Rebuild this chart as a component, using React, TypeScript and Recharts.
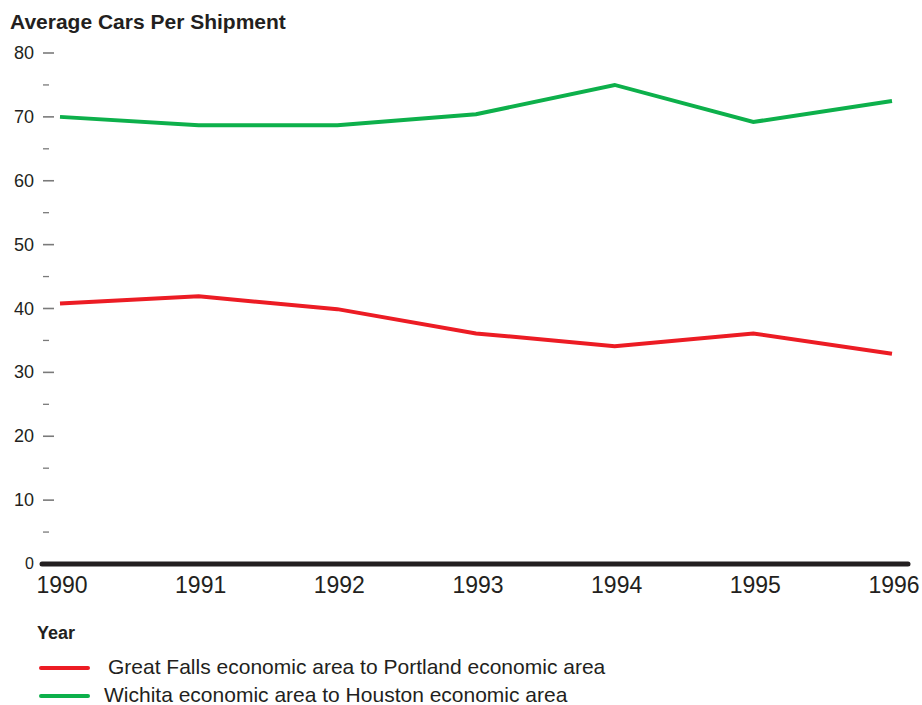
import React from "react";
import { LineChart, Line, XAxis, YAxis, ReferenceLine } from "recharts";

const years = [1990, 1991, 1992, 1993, 1994, 1995, 1996];
const greatFalls = [40.8, 41.9, 39.9, 36.1, 34.1, 36.1, 32.9];
const wichita = [70.0, 68.7, 68.7, 70.4, 75.0, 69.2, 72.5];
const yTicks = [0, 5, 10, 15, 20, 25, 30, 35, 40, 45, 50, 55, 60, 65, 70, 75, 80];
const seriesNames = [
  "Great Falls economic area to Portland economic area",
  "Wichita economic area to Houston economic area",
];
const colors = ["#ec1c24", "#0db04b"];

const data = years.map((y, i) => ({ year: y, gf: greatFalls[i], wi: wichita[i] }));

const FONT = "'Liberation Sans', Arial, Helvetica, sans-serif";
const TEXT = "#231f20";

const YTick = (props: any) => {
  const { x, y, payload } = props;
  const v = payload.value;
  const major = v % 10 === 0;
  return (
    <g>
      {v !== 0 && (
        <line x1={x + 1} x2={major ? x + 12 : x + 7} y1={y} y2={y} stroke="#7a7a7a" strokeWidth={major ? 1.6 : 1.3} />
      )}
      {major && (
        <text x={x - 8} y={y} dy={v === 0 ? 5 : 6} textAnchor="end" fontSize={v === 0 ? 16 : 18} fill={TEXT} fontFamily={FONT}>
          {v}
        </text>
      )}
    </g>
  );
};

const XTick = (props: any) => {
  const { x, y, payload } = props;
  return (
    <text x={x + 2} y={y + 29} textAnchor="middle" fontSize={23} fill={TEXT} fontFamily={FONT}>
      {payload.value}
    </text>
  );
};

const LegendBlock = () => (
  <div style={{ position: "absolute", left: 0, top: 655, width: 922, height: 48, fontFamily: FONT, color: TEXT }}>
    {seriesNames.map((n, i) => (
      <div key={n} style={{ position: "absolute", left: 0, top: i * 28, height: 21, width: 922 }}>
        <div style={{ position: "absolute", left: 39, top: 11, width: 51, height: 4, borderRadius: 2, background: colors[i] }} />
        <div style={{ position: "absolute", left: i === 0 ? 108 : 104, top: 3, fontSize: 21, lineHeight: "17px", whiteSpace: "nowrap" }}>{n}</div>
      </div>
    ))}
  </div>
);

export default function App() {
  return (
    <div style={{ position: "absolute", left: 0, top: 0, width: 922, height: 705, background: "#fff", fontFamily: FONT, overflow: "hidden" }}>
      <div style={{ position: "absolute", left: 10, top: 10, fontSize: 21, fontWeight: "bold", color: TEXT, whiteSpace: "nowrap", lineHeight: "normal" }}>
        Average Cars Per Shipment
      </div>
      <div style={{ position: "absolute", left: 37, top: 623, fontSize: 18, fontWeight: "bold", color: TEXT }}>Year</div>
      <LineChart width={922} height={705} data={data} margin={{ top: 53, right: 14, bottom: 111, left: 0 }}>
        <XAxis
          dataKey="year"
          type="number"
          domain={[1990, 1996]}
          ticks={years}
          padding={{ left: 18, right: 16 }}
          axisLine={false}
          tickLine={false}
          tickSize={0}
          tickMargin={0}
          height={30}
          tick={<XTick />}
          interval={0}
        />
        <YAxis
          domain={[0, 80]}
          ticks={yTicks}
          width={42}
          axisLine={false}
          tickLine={false}
          tickSize={0}
          tickMargin={0}
          interval={0}
          tick={<YTick />}
        />
        <ReferenceLine y={0} stroke={TEXT} strokeWidth={5} strokeLinecap="round" />
        <Line dataKey="gf" name={seriesNames[0]} stroke={colors[0]} strokeWidth={4} dot={false} isAnimationActive={false} />
        <Line dataKey="wi" name={seriesNames[1]} stroke={colors[1]} strokeWidth={4} dot={false} isAnimationActive={false} />
      </LineChart>
      <LegendBlock />
    </div>
  );
}
